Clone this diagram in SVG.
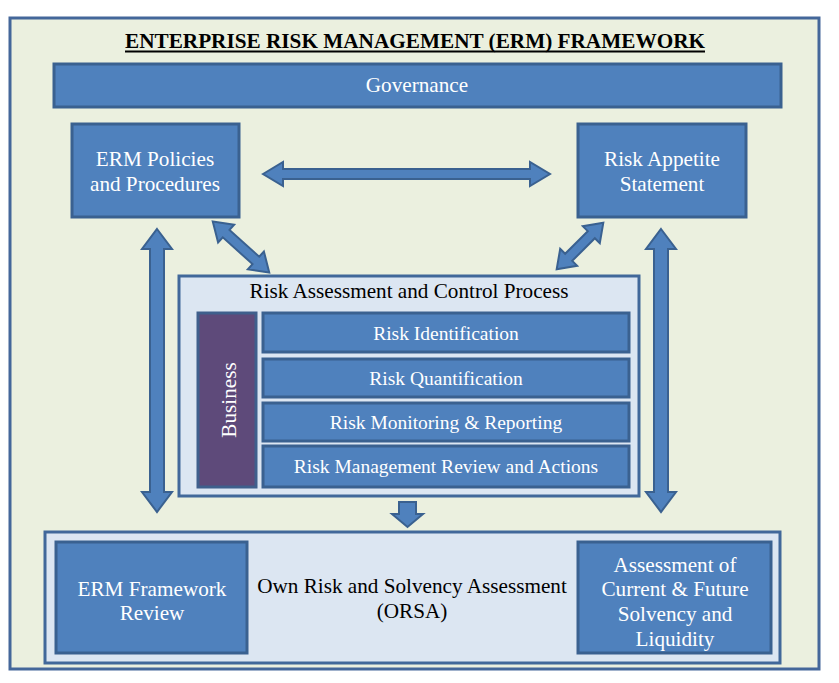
<svg xmlns="http://www.w3.org/2000/svg" width="839" height="683" viewBox="0 0 839 683">
<style>
.box{fill:#4F81BD;stroke:#3A6190;stroke-width:3}
.light{fill:#DCE6F2;stroke:#41689A;stroke-width:3}
.arr{fill:#4F81BD;stroke:#3A6190;stroke-width:2;stroke-linejoin:miter}
.w{font-family:"Liberation Serif","Times New Roman",serif;fill:#FFFFFF;font-size:21.2px;text-anchor:middle}
.s{font-size:19.5px}
.b{font-family:"Liberation Serif","Times New Roman",serif;fill:#000000;font-size:21.2px;text-anchor:middle}
</style>
<rect width="839" height="683" fill="#FFFFFF"/>
<g id="frame">
<rect x="10" y="18" width="809" height="651" fill="#EBF0DF" stroke="#44679A" stroke-width="3"/>
<text x="415" y="48" font-family="&quot;Liberation Serif&quot;,&quot;Times New Roman&quot;,serif" font-weight="bold" font-size="21" text-anchor="middle" fill="#000" textLength="580" lengthAdjust="spacingAndGlyphs">ENTERPRISE RISK MANAGEMENT (ERM) FRAMEWORK</text>
<line x1="125" y1="51.5" x2="705" y2="51.5" stroke="#000" stroke-width="2"/>
</g>
<g id="governance">
<rect class="box" x="54" y="64" width="727" height="43"/>
<text class="w" x="417" y="92">Governance</text>
</g>
<g id="policies">
<rect class="box" x="72" y="124" width="167" height="93"/>
<text class="w" x="155" y="166">ERM Policies</text>
<text class="w" x="155" y="191">and Procedures</text>
</g>
<g id="appetite">
<rect class="box" x="578" y="124" width="168" height="93"/>
<text class="w" x="662" y="166">Risk Appetite</text>
<text class="w" x="662" y="191">Statement</text>
</g>
<g id="process">
<rect class="light" x="179" y="276" width="460" height="220"/>
<text class="b" x="409" y="298">Risk Assessment and Control Process</text>
</g>
<g id="business">
<rect x="198" y="313" width="58" height="174" fill="#5E4A7A" stroke="#3F5F8C" stroke-width="3"/>
<text class="w" x="0" y="0" font-size="22.8" transform="translate(236,400) rotate(-90)">Business</text>
</g>
<g id="identification">
<rect class="box" x="263" y="313" width="366" height="39"/>
<text class="w s" x="446" y="340">Risk Identification</text>
</g>
<g id="quantification">
<rect class="box" x="263" y="359" width="366" height="38"/>
<text class="w s" x="446" y="385">Risk Quantification</text>
</g>
<g id="monitoring">
<rect class="box" x="263" y="403" width="366" height="38"/>
<text class="w s" x="446" y="429">Risk Monitoring &amp; Reporting</text>
</g>
<g id="review-actions">
<rect class="box" x="263" y="446" width="366" height="41"/>
<text class="w s" x="446" y="473">Risk Management Review and Actions</text>
</g>
<g id="orsa">
<rect class="light" x="45" y="532" width="735" height="131"/>
<text class="b" x="412" y="593">Own Risk and Solvency Assessment</text>
<text class="b" x="412" y="618">(ORSA)</text>
</g>
<g id="framework-review">
<rect class="box" x="56" y="542" width="191" height="111"/>
<text class="w" x="152" y="596">ERM Framework</text>
<text class="w" x="152" y="620">Review</text>
</g>
<g id="solvency">
<rect class="box" x="578" y="542" width="193" height="111"/>
<text class="w" x="675" y="572">Assessment of</text>
<text class="w" x="675" y="596">Current &amp; Future</text>
<text class="w" x="675" y="621">Solvency and</text>
<text class="w" x="675" y="646">Liquidity</text>
</g>
<g id="connectors">
<polygon class="arr" points="263,174 283,162 283,169 530,169 530,162 550,174 530,186 530,179 283,179 283,186"/>
<polygon class="arr" points="157,229 172,249 164,249 164,492 172,492 157,512 142,492 150,492 150,249 142,249"/>
<polygon class="arr" points="661,229 676,249 668,249 668,492 676,492 661,512 646,492 654,492 654,249 646,249"/>
<polygon class="arr" transform="translate(241,247) rotate(42)" points="-38,0 -20,-12 -20,-5 20,-5 20,-12 38,0 20,12 20,5 -20,5 -20,12"/>
<polygon class="arr" transform="translate(580,246) rotate(135)" points="-33,0 -16,-12 -16,-5 16,-5 16,-12 33,0 16,12 16,5 -16,5 -16,12"/>
<polygon class="arr" points="399,502 416,502 416,514 423,514 407.5,527 392,514 399,514"/>
</g>
</svg>
